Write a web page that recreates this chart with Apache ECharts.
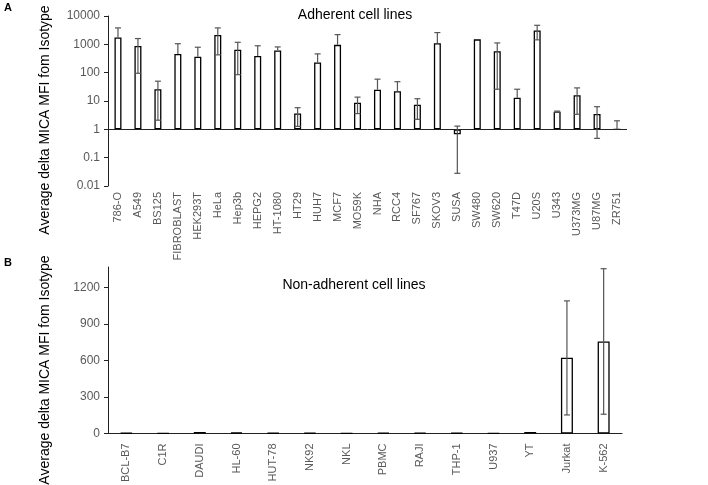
<!DOCTYPE html>
<html>
<head>
<meta charset="utf-8">
<script src="https://cdn.jsdelivr.net/npm/echarts@6/dist/echarts.min.js"></script>
<style>html,body{margin:0;padding:0;background:#fff}#c{width:708px;height:485px}</style>
</head>
<body>
<div id="c"></div>
<script>
// Panel A: adherent cell lines (log scale)
var adherentCells = ['786-O','A549','BS125','FIBROBLAST','HEK293T','HeLa','Hep3b','HEPG2','HT-1080','HT29','HUH7','MCF7','MO59K','NHA','RCC4','SF767','SKOV3','SUSA','SW480','SW620','T47D','U20S','U343','U373MG','U87MG','ZR751'];
var adherentValues = [1750, 880, 26, 460, 365, 2150, 640, 390, 610, 3.6, 230, 960, 8.7, 25, 22, 7.4, 1100, 0.67, 1500, 570, 13, 3100, 4.2, 16, 3.5, 1.0];
var adherentErrHigh = [3800, 1600, 50, 1050, 790, 3800, 1180, 890, 810, 5.8, 460, 2200, 13.7, 59, 48, 12, 2600, 1.3, null, 1120, 26, 4700, 4.4, 29, 6.3, 2.0];
var adherentErrLow = [null, 95, 2.1, null, null, 425, 85, null, null, 1.27, null, null, 3.6, null, null, 2.25, null, 0.028, null, 26, null, 1440, 4.0, 3.4, 0.48, null];
var adherentTicks = [0.01, 0.1, 1, 10, 100, 1000, 10000];

// Panel B: non-adherent cell lines (linear scale)
var nonAdherentCells = ['BCL-B7','C1R','DAUDI','HL-60','HUT-78','NK92','NKL','PBMC','RAJI','THP-1','U937','YT','Jurkat','K-562'];
var nonAdherentValues = [4, 3, 12, 8, 4, 4, 3, 6, 5, 4, 3, 12, 621, 755];
var nonAdherentErrHigh = [null, null, null, null, null, null, null, null, null, null, null, null, 1088, 1352];
var nonAdherentErrLow = [null, null, null, null, null, null, null, null, null, null, null, null, 152, 158];
var nonAdherentTicks = [0, 300, 600, 900, 1200];

function errData(vals, hi, lo) {
  return vals.map(function (v, i) {
    return [i, v, hi[i] == null ? '-' : hi[i], lo[i] == null ? '-' : lo[i]];
  });
}
function errRender(capW) {
  return function (params, api) {
    var i = api.value(0), v = api.value(1), hi = api.value(2), lo = api.value(3);
    if (isNaN(hi)) return null;
    var pTop = api.coord([i, hi]);
    var pBot = api.coord([i, isNaN(lo) ? v : lo]);
    var style = {stroke: '#555', lineWidth: 1.2};
    var children = [
      {type: 'line', shape: {x1: pTop[0], y1: pTop[1], x2: pBot[0], y2: pBot[1]}, style: style},
      {type: 'line', shape: {x1: pTop[0] - capW / 2, y1: pTop[1], x2: pTop[0] + capW / 2, y2: pTop[1]}, style: style}
    ];
    if (!isNaN(lo)) {
      children.push({type: 'line', shape: {x1: pBot[0] - capW / 2, y1: pBot[1], x2: pBot[0] + capW / 2, y2: pBot[1]}, style: style});
    }
    return {type: 'group', children: children};
  };
}

var font = 'Liberation Sans, Arial, sans-serif';
var grey = '#595959';
var chart = echarts.init(document.getElementById('c'), null, {renderer: 'canvas'});
chart.setOption({
  animation: false,
  backgroundColor: '#fff',
  grid: [
    {left: 108, top: 16, width: 519, height: 170},
    {left: 108, top: 267, width: 514, height: 169}
  ],
  xAxis: [
    {type: 'category', gridIndex: 0, data: adherentCells,
     axisLine: {show: false}, axisTick: {show: false},
     axisLabel: {rotate: 90, margin: 6, color: grey, fontSize: 11, fontFamily: font, interval: 0}},
    {type: 'category', gridIndex: 1, data: nonAdherentCells,
     axisLine: {show: true, onZero: true, lineStyle: {color: '#222', width: 1}}, axisTick: {show: false},
     axisLabel: {rotate: 90, margin: 10, color: grey, fontSize: 11, fontFamily: font, interval: 0}}
  ],
  yAxis: [
    {type: 'log', logBase: 10, gridIndex: 0, min: 0.01, max: 10000,
     splitLine: {show: false},
     axisLine: {show: true, lineStyle: {color: '#222'}},
     axisTick: {show: true, length: 4, lineStyle: {color: '#222'}, customValues: adherentTicks},
     axisLabel: {color: grey, fontSize: 12, fontFamily: font, margin: 8, customValues: adherentTicks,
       formatter: function (v) { return String(+Number(v).toPrecision(6)); }}},
    {type: 'value', gridIndex: 1, min: 0, max: 1366,
     splitLine: {show: false},
     axisLine: {show: true, lineStyle: {color: '#222'}},
     axisTick: {show: true, length: 4, lineStyle: {color: '#222'}, customValues: nonAdherentTicks},
     axisLabel: {color: grey, fontSize: 12, fontFamily: font, margin: 8, customValues: nonAdherentTicks,
       formatter: function (v) { return String(v); }}}
  ],
  series: [
    {type: 'bar', xAxisIndex: 0, yAxisIndex: 0, data: adherentValues, barWidth: 7,
     itemStyle: {color: '#fff', borderColor: '#000', borderWidth: 1.3},
     markLine: {silent: true, symbol: 'none', label: {show: false},
       lineStyle: {color: '#222', width: 1, type: 'solid'}, data: [{yAxis: 1}]}},
    {type: 'custom', xAxisIndex: 0, yAxisIndex: 0, renderItem: errRender(6),
     data: errData(adherentValues, adherentErrHigh, adherentErrLow), encode: {x: 0, y: 1}, z: 5},
    {type: 'bar', xAxisIndex: 1, yAxisIndex: 1, data: nonAdherentValues, barWidth: 12,
     itemStyle: {color: '#fff', borderColor: '#000', borderWidth: 1.3}},
    {type: 'custom', xAxisIndex: 1, yAxisIndex: 1, renderItem: errRender(6),
     data: errData(nonAdherentValues, nonAdherentErrHigh, nonAdherentErrLow), encode: {x: 0, y: 1}, z: 5}
  ],
  graphic: [
    {type: 'text', left: 4, top: 2, style: {text: 'A', font: 'bold 11px ' + font, fill: '#000'}},
    {type: 'text', left: 4, top: 257, style: {text: 'B', font: 'bold 11px ' + font, fill: '#000'}},
    {type: 'text', x: 355, y: 15, style: {text: 'Adherent cell lines', font: '14px ' + font, fill: '#000', textAlign: 'center', textVerticalAlign: 'middle'}},
    {type: 'text', x: 354, y: 285, style: {text: 'Non-adherent cell lines', font: '14px ' + font, fill: '#000', textAlign: 'center', textVerticalAlign: 'middle'}},
    {type: 'text', x: 45, y: 120, rotation: Math.PI / 2, style: {text: 'Average delta MICA MFI fom Isotype', font: '14px ' + font, fill: '#000', textAlign: 'center', textVerticalAlign: 'middle'}},
    {type: 'text', x: 45, y: 370, rotation: Math.PI / 2, style: {text: 'Average delta MICA MFI fom Isotype', font: '14px ' + font, fill: '#000', textAlign: 'center', textVerticalAlign: 'middle'}}
  ]
});
</script>
</body>
</html>
